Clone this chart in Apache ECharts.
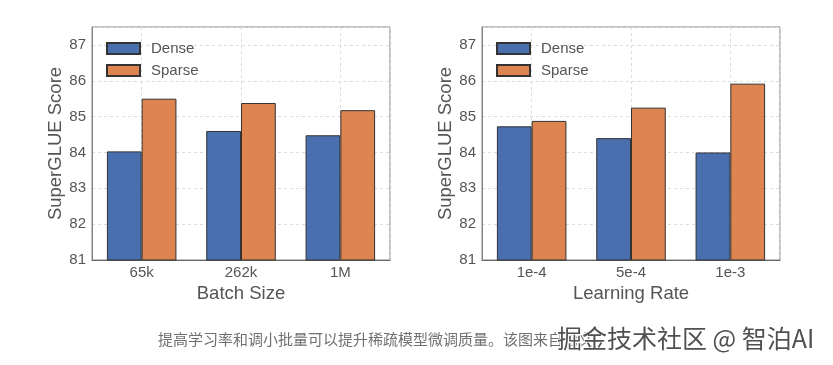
<!DOCTYPE html>
<html>
<head>
<meta charset="utf-8">
<script src="https://cdn.jsdelivr.net/npm/echarts@6/dist/echarts.min.js"></script>
<style>
html,body{margin:0;padding:0;background:#fff;}
#chart{width:833px;height:365px;}
</style>
</head>
<body>
<div id="chart"></div>
<script>
const batchCategories = ['65k', '262k', '1M'];
const batchDense = [84.03, 84.6, 84.48];
const batchSparse = [85.5, 85.38, 85.18];

const lrCategories = ['1e-4', '5e-4', '1e-3'];
const lrDense = [84.73, 84.4, 84.0];
const lrSparse = [84.88, 85.25, 85.92];

const yMin = 81, yMax = 87.5, yStep = 1;
const seriesNames = ['Dense', 'Sparse'];
const xTitles = ['Batch Size', 'Learning Rate'];
const yTitle = 'SuperGLUE Score';
const captionText = '提高学习率和调小批量可以提升稀疏模型微调质量。该图来自论文';
const watermarkText = '掘金技术社区 @ 智泊AI';

const FONT = "'Liberation Sans', Arial, Helvetica, sans-serif";
const CJK = "'Noto Sans CJK SC', sans-serif";
const BLUE = '#4A6FAE', ORANGE = '#DD8450';
const gridLefts = [92, 482];
const chart = echarts.init(document.getElementById('chart'), null, {renderer: 'canvas'});

const grids = [], xAxes = [], yAxes = [], series = [], legends = [];
[[batchCategories, batchDense, batchSparse], [lrCategories, lrDense, lrSparse]].forEach((set, i) => {
  const [cats, dense, sparse] = set;
  grids.push({left: gridLefts[i], top: 27, width: 298, height: 233, show: true,
    borderColor: '#858585', borderWidth: 1, backgroundColor: 'transparent'});
  xAxes.push({type: 'category', gridIndex: i, data: cats,
    name: xTitles[i], nameLocation: 'middle', nameGap: 16,
    nameTextStyle: {fontFamily: FONT, fontSize: 18.5, color: '#555'},
    axisLine: {lineStyle: {color: '#666'}}, axisTick: {show: false},
    axisLabel: {fontFamily: FONT, fontSize: 15, color: '#555', margin: 5},
    splitLine: {show: false}});
  // helper axis for vertical dashed gridlines at category centres
  const halfCats = [];
  cats.forEach(c => { halfCats.push(c + 'a'); halfCats.push(c + 'b'); });
  xAxes.push({type: 'category', gridIndex: i, data: halfCats, position: 'top',
    axisLine: {show: false}, axisTick: {show: false}, axisLabel: {show: false},
    splitLine: {show: true, interval: (idx) => idx % 2 === 1,
      lineStyle: {color: '#dcdcdc', type: [3, 3], width: 1}}});
  yAxes.push({type: 'value', gridIndex: i, min: yMin, max: yMax, interval: yStep,
    name: yTitle, nameLocation: 'middle', nameGap: 25, nameRotate: 90,
    nameTextStyle: {fontFamily: FONT, fontSize: 18.5, color: '#555'},
    axisLine: {show: true, lineStyle: {color: '#858585'}}, axisTick: {show: false},
    axisLabel: {fontFamily: FONT, fontSize: 15, color: '#555', margin: 6,
      formatter: v => (Number.isInteger(v) ? String(v) : '')},
    splitLine: {show: true, lineStyle: {color: '#dcdcdc', type: [3, 3], width: 1}}});
  const xi = i * 2;
  series.push({name: seriesNames[0], type: 'bar', xAxisIndex: xi, yAxisIndex: i, data: dense,
    barGap: '0%', barCategoryGap: '30%',
    itemStyle: {color: BLUE, borderColor: '#333', borderWidth: 1}});
  series.push({name: seriesNames[1], type: 'bar', xAxisIndex: xi, yAxisIndex: i, data: sparse,
    barGap: '0%', barCategoryGap: '30%',
    itemStyle: {color: ORANGE, borderColor: '#333', borderWidth: 1}});
  legends.push({orient: 'vertical', left: gridLefts[i] + 9, top: 36, itemWidth: 33, itemHeight: 11,
    itemGap: 7, icon: 'rect', selectedMode: false, data: seriesNames,
    textStyle: {fontFamily: FONT, fontSize: 15, color: '#555', padding: [0, 0, 0, 6]}});
});

chart.setOption({
  animation: false,
  backgroundColor: '#fff',
  grid: grids, xAxis: xAxes, yAxis: yAxes, series: series, legend: legends,
  graphic: [
    {type: 'text', left: 158, top: 332,
      style: {text: captionText, font: '15px ' + CJK, fill: '#707070'}},
    {type: 'text', left: 556, top: 325,
      style: {text: watermarkText, font: '25px ' + CJK, fill: '#505050', stroke: '#fff', lineWidth: 2}}
  ]
});
</script>
</body>
</html>
